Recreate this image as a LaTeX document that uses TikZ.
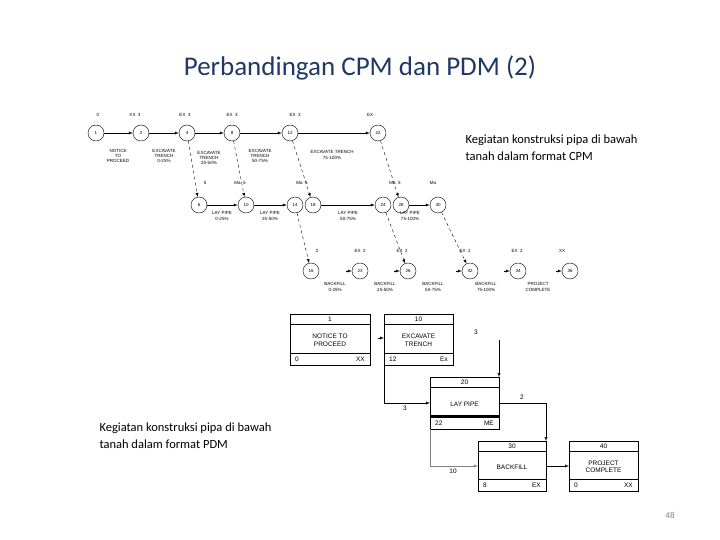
\documentclass[tikz,border=0pt]{standalone}
\usepackage{fontspec}
\setmainfont{Carlito}
\newfontfamily\dia{Liberation Sans}
\definecolor{titleblue}{RGB}{31,56,100}
\begin{document}
\begin{tikzpicture}[x=1pt,y=-1pt,
  ev/.style={circle,draw,thin,minimum size=16pt,inner sep=0pt,font=\dia\fontsize{4.5}{5}\selectfont},
  lab/.style={font=\dia\fontsize{4.5}{5.2}\selectfont,align=center,inner sep=0pt},
  pl/.style={font=\dia\fontsize{6.5}{7.5}\selectfont,align=center,inner sep=0pt},
  act/.style={-latex,thin},
  dum/.style={-latex,thin,dashed},
  box/.style={draw,thin,fill=white}]
\useasboundingbox (0,0) rectangle (720,540);
\node[font=\fontsize{27}{32}\selectfont,text=titleblue] (title) at (360,68) {Perbandingan CPM dan PDM (2)};
% CPM events
\node[ev] (e1) at (96,133) {1};
\node[ev] (e2) at (141,133) {2};
\node[ev] (e4) at (187,133) {4};
\node[ev] (e8) at (232,133) {8};
\node[ev] (e12) at (290,133) {12};
\node[ev] (e22) at (378,133) {22};
\node[ev] (e6) at (199,205) {6};
\node[ev] (e10) at (246,205) {10};
\node[ev] (e14) at (295,205) {14};
\node[ev] (e18) at (313,205) {18};
\node[ev] (e24) at (383,205) {24};
\node[ev] (e28) at (401,205) {28};
\node[ev] (e30) at (438,205) {30};
\node[ev] (e16) at (311,271) {16};
\node[ev] (e23) at (360,271) {23};
\node[ev] (e26) at (408,271) {26};
\node[ev] (e32) at (470,271) {32};
\node[ev] (e34) at (518,271) {34};
\node[ev] (e36) at (570,271) {36};
\foreach \a/\b in {e1/e2,e2/e4,e4/e8,e8/e12,e12/e22,e6/e10,e10/e14,e18/e24,e28/e30}
  \draw[act] (\a) -- (\b);
\foreach \a/\b in {e4/e6,e8/e10,e12/e18,e22/e28,e14/e16,e24/e26,e30/e32}
  \draw[dum] (\a) -- (\b);
\foreach \n in {e23,e26,e32,e34,e36}{
  \coordinate (s\n) at ([xshift=-6pt]\n.west);
  \draw[act] (s\n) -- (\n.west);}
% labels above
\foreach \x/\y/\t in {98/115/0,135/115/XX\ \ 3,185/115/EX\ \ 3,232/115/EX\ \ 3,295/115/EX\ \ 3,370/115/EX,
  205/183/5,240/183/Ma\ \ 5,302/183/Ma\ \ 5,395/183/Ma\ \ 5,433/183/Ma,
  317/251/2,360/251/EX\ \ 2,402/251/EX\ \ 2,465/251/EX\ \ 2,517/251/EX\ \ 2,562/251/XX}
  \node[lab] at (\x,\y) {\t};
% labels below
\node[lab] (l1) at (118,156) {NOTICE\\TO\\PROCEED};
\node[lab] (l2) at (164,156) {EXCAVATE\\TRENCH\\0-25\%};
\node[lab] (l3) at (209,158) {EXCAVATE\\TRENCH\\25-50\%};
\node[lab] (l4) at (260,156) {EXCAVATE\\TRENCH\\50-75\%};
\node[lab] (l5) at (332,155) {EXCAVATE TRENCH\\75-100\%};
\node[lab] (l6) at (222,216) {LAY PIPE\\0-25\%};
\node[lab] (l7) at (270,216) {LAY PIPE\\25-50\%};
\node[lab] (l8) at (348,216) {LAY PIPE\\50-75\%};
\node[lab] (l9) at (410,216) {LAY PIPE\\75-100\%};
\node[lab] (l10) at (335,287) {BACKFILL\\0-25\%};
\node[lab] (l11) at (385,287) {BACKFILL\\25-50\%};
\node[lab] (l12) at (433,287) {BACKFILL\\50-75\%};
\node[lab] (l13) at (486,287) {BACKFILL\\75-100\%};
\node[lab] (l14) at (538,287) {PROJECT\\COMPLETE};
% PDM boxes
\foreach \n/\xa/\ya/\xb/\yb/\top/\mid/\bl/\br in {
  b1/290/314/370/365/1/NOTICE TO\\PROCEED/0/XX,
  b2/384/314/453/365/10/EXCAVATE\\TRENCH/12/Ex,
  b3/430/377/499/429/20/LAY PIPE/22/ME,
  b4/478/441/546/491/30/BACKFILL/8/EX,
  b5/569/441/638/491/40/PROJECT\\COMPLETE/0/XX}{
  \draw[box] (\xa,\ya) rectangle (\xb,\yb);
  \draw (\xa,\ya+10) -- (\xb,\ya+10) (\xa,\yb-12) -- (\xb,\yb-12);
  \node[pl] at ({(\xa+\xb)/2},\ya+5) {\top};
  \node[pl] at ({(\xa+\xb)/2},{(\ya+\yb)/2+1}) {\mid};
  \node[pl,anchor=west] at (\xa+5,\yb-6) {\bl};
  \node[pl,anchor=east] at (\xb-5,\yb-6) {\br};
  \coordinate (\n nw) at (\xa,\ya); \coordinate (\n sw) at (\xa,\yb);
  \coordinate (\n ne) at (\xb,\ya); \coordinate (\n se) at (\xb,\yb);}
\draw[line width=1.3pt] (430,416) -- (499,416);
\coordinate (in2) at (378,338);
\draw[act] (in2) -- (384,338);
\coordinate (top3) at (499,340);
\draw[act] (top3) -- (b3ne);
\node[pl] at (476,332) {3};
\draw[act] (b2sw) |- (430,403);
\node[pl] at (405,408) {3};
\draw[act] (499,403) -| (b4ne);
\node[pl] at (522,397) {2};
\draw[act,gray] (b3sw) |- (478,466);
\node[pl] at (453,471) {10};
\draw[act] (546,466) -- (569,466);
% texts
\node[font=\fontsize{12.5}{17}\selectfont,align=left,anchor=west] (t1) at (462,148) {Kegiatan konstruksi pipa di bawah\\tanah dalam format CPM};
\node[font=\fontsize{12.5}{17}\selectfont,align=left,anchor=west] (t2) at (96,436) {Kegiatan konstruksi pipa di bawah\\tanah dalam format PDM};
\node[font=\fontsize{9}{10}\selectfont,text=gray] (pg) at (670,515) {48};
\end{tikzpicture}
\end{document}
